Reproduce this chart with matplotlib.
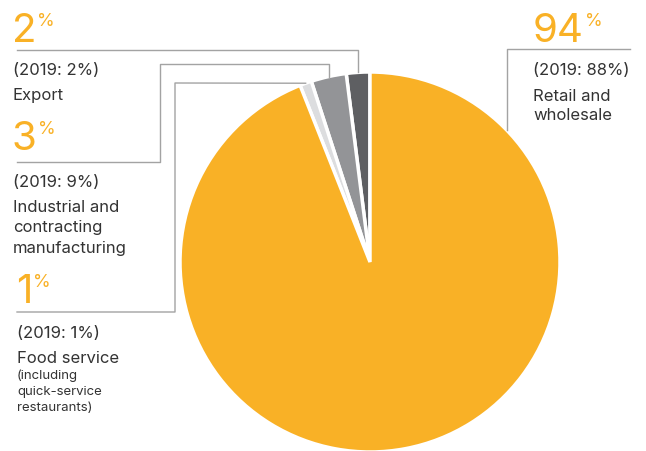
import numpy as np
import matplotlib
matplotlib.use("Agg")
from matplotlib import pyplot as plt

plt.rcParams['font.family'] = ['Inter', 'DejaVu Sans']

# segment shares, starting at 12 o'clock and running anticlockwise
segments = ['Export', 'Industrial and\ncontracting\nmanufacturing', 'Food service', 'Retail and\nwholesale']
share_2020 = [2, 3, 1, 94]
share_2019 = [2, 9, 1, 88]
colors = ['#5e5f62', '#939497', '#dcdddf', '#f9b126']

ORANGE = '#f9b126'
TEXT = '#333333'
LINE = '#a3a3a3'

W, H = 646, 452
fig = plt.figure(figsize=(W / 100, H / 100), dpi=100)

# pie geometry in pixels
cx, cy, r = 370, 263, 190
ax_pie = fig.add_axes([(cx - r) / W, (H - cy - r) / H, 2 * r / W, 2 * r / H])
ax_pie.pie(share_2020, colors=colors, startangle=90, counterclock=True,
           wedgeprops=dict(edgecolor='white', linewidth=2.5))
ax_pie.set_xlim(-1, 1)
ax_pie.set_ylim(-1, 1)
ax_pie.set_aspect('equal')

ax = fig.add_axes([0, 0, 1, 1], zorder=3)
ax.set_xlim(0, W)
ax.set_ylim(H, 0)
ax.axis('off')


def edge_point(i):
    # outer edge point at the middle of wedge i
    start = 90 + 3.6 * sum(share_2020[:i])
    mid = np.radians(start + 1.8 * share_2020[i])
    return cx + r * np.cos(mid), cy - r * np.sin(mid)


def big_pct(x, y, value):
    t = ax.text(x, y, str(value), fontsize=29, color=ORANGE, va='baseline', ha='left')
    ax.annotate('%', xy=(1, 1), xycoords=t, xytext=(0.5, 0), textcoords='offset points',
                fontsize=13, color=ORANGE, va='top', ha='left')


def lines(x, y, text, size, step):
    for i, s in enumerate(text.split('\n')):
        ax.text(x, y + i * step, s, fontsize=size, color=TEXT, va='baseline')


def label_block(x, y, prev, name, note=None):
    ax.text(x, y, '(2019: %d%%)' % prev, fontsize=12, color=TEXT, va='baseline')
    lines(x, y + 25, name, 12, 20.5)
    if note:
        lines(x, y + 41, note, 9.5, 16)


lw = 1.0

# Export
big_pct(12, 42, share_2020[0])
label_block(13, 75, share_2019[0], segments[0])
px, py = edge_point(0)
ax.plot([17, px, px], [51, 51, py], color=LINE, lw=lw)

# Industrial and contracting manufacturing
big_pct(12, 150, share_2020[1])
label_block(13, 187, share_2019[1], segments[1])
px, py = edge_point(1)
ax.plot([17, 160, 160, px, px], [163, 163, 65, 65, py], color=LINE, lw=lw)

# Food service
big_pct(16, 303, share_2020[2])
label_block(17, 338, share_2019[2], segments[2], '(including\nquick-service\nrestaurants)')
px, py = edge_point(2)
ax.plot([17, 175, 175, px], [313, 313, 84, py], color=LINE, lw=lw)

# Retail and wholesale
big_pct(533, 42, share_2020[3])
ax.text(533, 75, '(2019: %d%%)' % share_2019[3], fontsize=12, color=TEXT, va='baseline')
lines(533, 101, segments[3], 12, 19.5)
rx = 507
ry = cy - np.sqrt(r ** 2 - (rx - cx) ** 2)
ax.plot([630, rx, rx], [50, 50, ry], color=LINE, lw=lw)

fig.savefig('out.png', dpi=100)
